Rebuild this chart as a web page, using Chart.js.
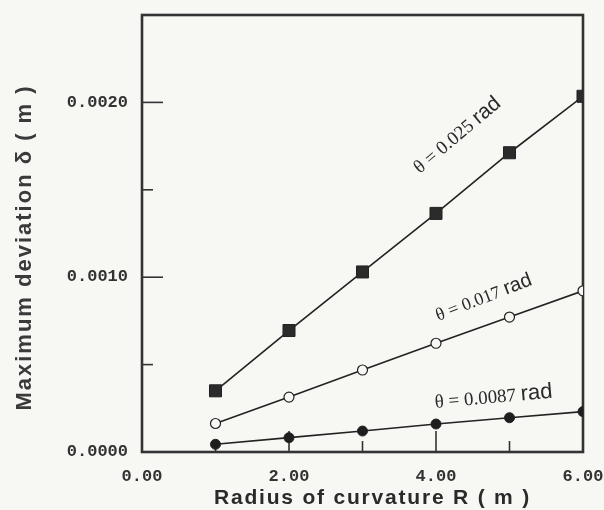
<!DOCTYPE html>
<html>
<head>
<meta charset="utf-8">
<script src="https://cdn.jsdelivr.net/npm/chart.js@4/dist/chart.umd.min.js"></script>
<style>
  html, body { margin: 0; padding: 0; background: #f7f7f4; }
  #wrap { width: 604px; height: 510px; }
</style>
</head>
<body>
<div id="wrap"><canvas id="chart" width="604" height="510"></canvas></div>
<script>
// radius of curvature R (m)
const radius = [1, 2, 3, 4, 5, 6];
// maximum deviation (m) for each bending angle
const dev025 = [0.00035, 0.000695, 0.00103, 0.001365, 0.001712, 0.002035];
const dev017 = [0.000163, 0.000314, 0.000469, 0.000622, 0.000772, 0.000922];
const dev0087 = [0.000044, 0.000082, 0.00012, 0.00016, 0.000196, 0.000231];

const xTickLabels = ["0.00", "", "2.00", "", "4.00", "", "6.00"];
const yTickLabels = ["0.0000", "", "0.0010", "", "0.0020", ""];

const curveNames = ["0.025", "0.017", "0.0087"];
const xTitle = "Radius of curvature R ( m )";
const yTitle = "Maximum deviation \u03b4 ( m )";

const INK = "#222";
const TICK_FONT = { family: "'Liberation Mono', 'DejaVu Sans Mono', monospace", size: 17, weight: "bold" };
const TITLE_FAMILY = "'Liberation Sans', Arial, sans-serif";

function series(values) {
  return values.map((v, i) => ({ x: radius[i], y: v }));
}

// where each curve label starts (data units) and its slant
const curveLabels = [
  { name: curveNames[0], x: 3.78, y: 0.00159, angle: -40, serif: 19, sans: 21 },
  { name: curveNames[1], x: 4.03, y: 0.00075, angle: -21, serif: 18, sans: 20 },
  { name: curveNames[2], x: 3.99, y: 0.000252, angle: -5, serif: 19, sans: 22 },
];

const frameAndTicks = {
  id: "frameAndTicks",
  beforeDatasetsDraw(chart) {
    const { ctx, chartArea: a, scales } = chart;
    ctx.save();
    ctx.strokeStyle = "#333";
    ctx.lineWidth = 1.6;
    scales.x.ticks.forEach((t, i) => {
      if (i === 0 || i === scales.x.ticks.length - 1) return;
      const px = scales.x.getPixelForValue(t.value);
      const len = i % 2 === 0 ? 21 : 11;
      ctx.beginPath();
      ctx.moveTo(px, a.bottom);
      ctx.lineTo(px, a.bottom - len);
      ctx.stroke();
    });
    scales.y.ticks.forEach((t, i) => {
      if (i === 0 || i === scales.y.ticks.length - 1) return;
      const py = scales.y.getPixelForValue(t.value);
      const len = i % 2 === 0 ? 21 : 11;
      ctx.beginPath();
      ctx.moveTo(a.left, py);
      ctx.lineTo(a.left + len, py);
      ctx.stroke();
    });
    ctx.lineWidth = 2.6;
    ctx.strokeRect(a.left, a.top, a.right - a.left, a.bottom - a.top);
    ctx.restore();
  },
  afterDatasetsDraw(chart) {
    const { ctx, scales, chartArea: a } = chart;
    ctx.save();
    ctx.fillStyle = "#2a2a2a";
    ctx.textBaseline = "alphabetic";
    curveLabels.forEach((l) => {
      const px = scales.x.getPixelForValue(l.x);
      const py = scales.y.getPixelForValue(l.y);
      ctx.save();
      ctx.translate(px, py);
      ctx.rotate((l.angle * Math.PI) / 180);
      ctx.font = `${l.serif}px 'Liberation Serif', serif`;
      const head = "\u03b8 = " + l.name + " ";
      ctx.fillText(head, 0, 0);
      const w = ctx.measureText(head).width;
      ctx.font = `${l.sans}px 'Liberation Sans', Arial, sans-serif`;
      ctx.fillText("rad", w, 0);
      ctx.restore();
    });

    // axis titles, letter-spaced like the original print
    ctx.textAlign = "center";
    ctx.font = `bold 21px ${TITLE_FAMILY}`;
    ctx.letterSpacing = "1.8px";
    ctx.fillText(xTitle, (a.left + a.right) / 2 + 10, 504);
    ctx.save();
    ctx.translate(31, (a.top + a.bottom) / 2 + 14);
    ctx.rotate(-Math.PI / 2);
    ctx.fillStyle = "#3a3a3a";
    ctx.font = `bold 22px ${TITLE_FAMILY}`;
    ctx.letterSpacing = "2px";
    ctx.fillText(yTitle, 0, 0);
    ctx.restore();
    ctx.restore();
  },
};

new Chart(document.getElementById("chart"), {
  type: "line",
  data: {
    datasets: [
      {
        label: "\u03b8 = 0.025 rad",
        data: series(dev025),
        borderColor: INK,
        borderWidth: 1.6,
        pointStyle: "rect",
        pointRadius: 8.5,
        pointBackgroundColor: "#2b2b2b",
        pointBorderColor: INK,
        pointBorderWidth: 1,
      },
      {
        label: "\u03b8 = 0.017 rad",
        data: series(dev017),
        borderColor: INK,
        borderWidth: 1.6,
        pointStyle: "circle",
        pointRadius: 5,
        pointBackgroundColor: "#f7f7f4",
        pointBorderColor: INK,
        pointBorderWidth: 1.2,
      },
      {
        label: "\u03b8 = 0.0087 rad",
        data: series(dev0087),
        borderColor: INK,
        borderWidth: 1.6,
        pointStyle: "circle",
        pointRadius: 5,
        pointBackgroundColor: "#1e1e1e",
        pointBorderColor: INK,
        pointBorderWidth: 1,
      },
    ],
  },
  options: {
    responsive: false,
    animation: false,
    devicePixelRatio: 1,
    layout: { padding: { top: 15, right: 21, left: 0, bottom: 0 } },
    plugins: { legend: { display: false }, tooltip: { enabled: false } },
    scales: {
      x: {
        type: "linear",
        min: 0,
        max: 6,
        grid: { display: false, drawTicks: false },
        border: { display: false },
        ticks: {
          stepSize: 1,
          padding: 15,
          color: "#333",
          font: TICK_FONT,
          maxRotation: 0,
          autoSkip: false,
          callback: (v, i) => xTickLabels[i],
        },
        title: { display: false, text: xTitle },
        afterFit: (s) => {
          s.height = 58;
          s.paddingLeft = 0;
          s.paddingRight = 0;
        },
      },
      y: {
        min: 0,
        max: 0.0025,
        grid: { display: false, drawTicks: false },
        border: { display: false },
        ticks: {
          stepSize: 0.0005,
          padding: 14,
          color: "#333",
          font: TICK_FONT,
          autoSkip: false,
          callback: (v, i) => yTickLabels[i],
        },
        title: { display: false, text: yTitle },
        afterFit: (s) => {
          s.width = 142;
          s.paddingTop = 0;
          s.paddingBottom = 0;
        },
      },
    },
  },
  plugins: [frameAndTicks],
});
</script>
</body>
</html>
